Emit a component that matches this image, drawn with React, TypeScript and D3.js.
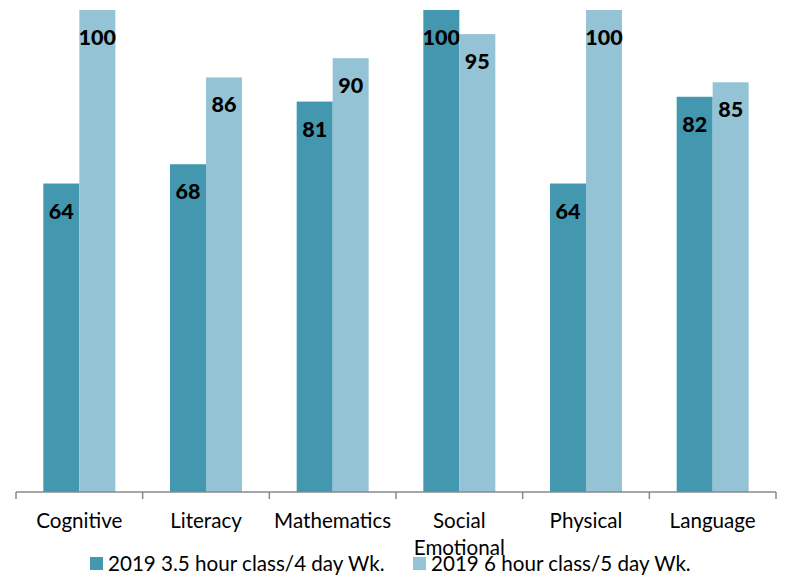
import React from "react";
import * as d3 from "d3";

const categories = ["Cognitive", "Literacy", "Mathematics", "Social Emotional", "Physical", "Language"];
const series1 = [64, 68, 81, 100, 64, 82];
const series2 = [100, 86, 90, 95, 100, 85];
const seriesNames = ["2019 3.5 hour class/4 day Wk.", "2019 6 hour class/5 day Wk."];
const colors = ["#4398b0", "#93c3d5"];

const W = 788, H = 577;
const font = "Lato, 'Open Sans', sans-serif";

export default function App() {
  const left = 16, right = 776, base = 492, top = 10;
  const x = d3.scaleBand<string>().domain(categories).range([left, right]).paddingInner(0).paddingOuter(0);
  const y = d3.scaleLinear().domain([0, 100]).range([base, top]);
  const barW = 36;
  const data = [series1, series2];
  const catLabels = categories.map((c) => (c === "Social Emotional" ? ["Social", "Emotional"] : [c]));
  return (
    <svg width={W} height={H} style={{ position: "absolute", left: 0, top: 0 }}>
      <rect width={W} height={H} fill="#fff" />
      {categories.map((c, i) => {
        const cx = (x(c) as number) + x.bandwidth() / 2;
        return (
          <g key={c}>
            {data.map((s, j) => {
              const bx = cx - barW + j * barW;
              return (
                <g key={j}>
                  <rect x={bx} y={y(s[i])} width={barW} height={base - y(s[i])} fill={colors[j]} />
                  <text x={bx + barW / 2} y={y(s[i]) + 35} textAnchor="middle" fontFamily={font}
                    fontWeight="900" fontSize={21.5} fill="#000">{s[i]}</text>
                </g>
              );
            })}
            {catLabels[i].map((t, k) => (
              <text key={k} x={cx} y={528 + k * 27} textAnchor="middle" fontFamily={font} fontSize={20.6} fill="#000">{t}</text>
            ))}
          </g>
        );
      })}
      <line x1={left} x2={right} y1={base} y2={base} stroke="#898989" strokeWidth={1.5} />
      {d3.range(categories.length + 1).map((i) => {
        const tx = left + i * x.bandwidth();
        return <line key={i} x1={tx} x2={tx} y1={base} y2={base + 7} stroke="#898989" strokeWidth={1.5} />;
      })}
      {seriesNames.map((n, j) => {
        const lx = j === 0 ? 90 : 413;
        return (
          <g key={n}>
            <rect x={lx} y={557} width={13} height={13} fill={colors[j]} />
            <text x={lx + 18} y={571} fontFamily={font} fontSize={20.6} fill="#000">{n}</text>
          </g>
        );
      })}
    </svg>
  );
}
